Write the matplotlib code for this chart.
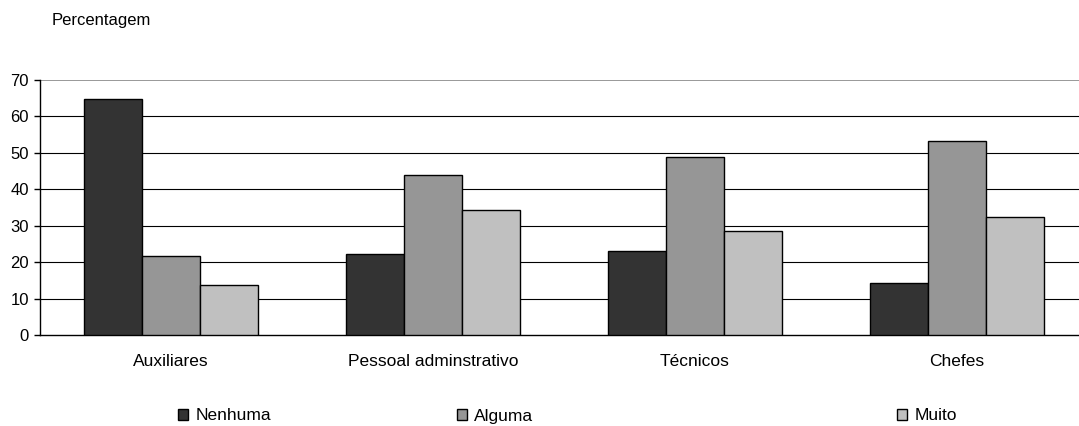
import numpy as np
import matplotlib
matplotlib.use("Agg")
import matplotlib.pyplot as plt

# dados
categorias = ['Auxiliares', 'Pessoal adminstrativo', 'Técnicos', 'Chefes']
nenhuma = [64.8, 22.3, 23.1, 14.3]
alguma = [21.8, 43.9, 48.8, 53.3]
muito = [13.7, 34.2, 28.5, 32.5]
series = ['Nenhuma', 'Alguma', 'Muito']
cores = ['#333333', '#969696', '#c0c0c0']

plt.rcParams['font.family'] = ['Liberation Sans', 'DejaVu Sans']

fig = plt.figure(figsize=(10.79, 4.26), dpi=100)
# a área do gráfico passa um pouco da margem direita (como no original)
ax = fig.add_axes([40/1079, 91/426, 1048/1079, 255/426])

x = np.arange(len(categorias))
width = 0.2222
barras = []
for i, (vals, cor) in enumerate(zip([nenhuma, alguma, muito], cores)):
    b = ax.bar(x + (i - 1) * width, vals, width, color=cor, edgecolor='black',
               linewidth=1.0, label=series[i], zorder=3)
    barras.append(b)

ax.set_xlim(-0.5, len(categorias) - 0.5)
ax.set_ylim(0, 70)
ax.set_yticks(range(0, 80, 10))
ax.set_xticks(x)
ax.set_xticklabels(categorias)
ax.tick_params(axis='x', length=0, pad=14, labelsize=12.5)
ax.tick_params(axis='y', length=4, width=1, pad=4, labelsize=12, direction='out')

# linhas de grade
for v in range(10, 70, 10):
    ax.axhline(v, color='black', linewidth=0.8, zorder=1)
ax.axhline(70, color='#888888', linewidth=1.2, zorder=1)

ax.spines['top'].set_visible(False)
ax.spines['right'].set_visible(False)
ax.spines['left'].set_linewidth(1)
ax.spines['bottom'].set_linewidth(1)

fig.text(52/1079, 1 - 21/426, 'Percentagem', fontsize=12, va='center', ha='left')

# legenda espalhada em baixo
pos_leg = [178, 457, 897]
for b, px in zip(barras, pos_leg):
    leg = fig.legend(handles=[b], loc='center left',
                     bbox_to_anchor=(px/1079, 1 - 416/426), frameon=False,
                     fontsize=12.5, handlelength=0.6, handleheight=0.6,
                     handletextpad=0.4, borderpad=0, borderaxespad=0)

plt.savefig('out.png', dpi=100)
